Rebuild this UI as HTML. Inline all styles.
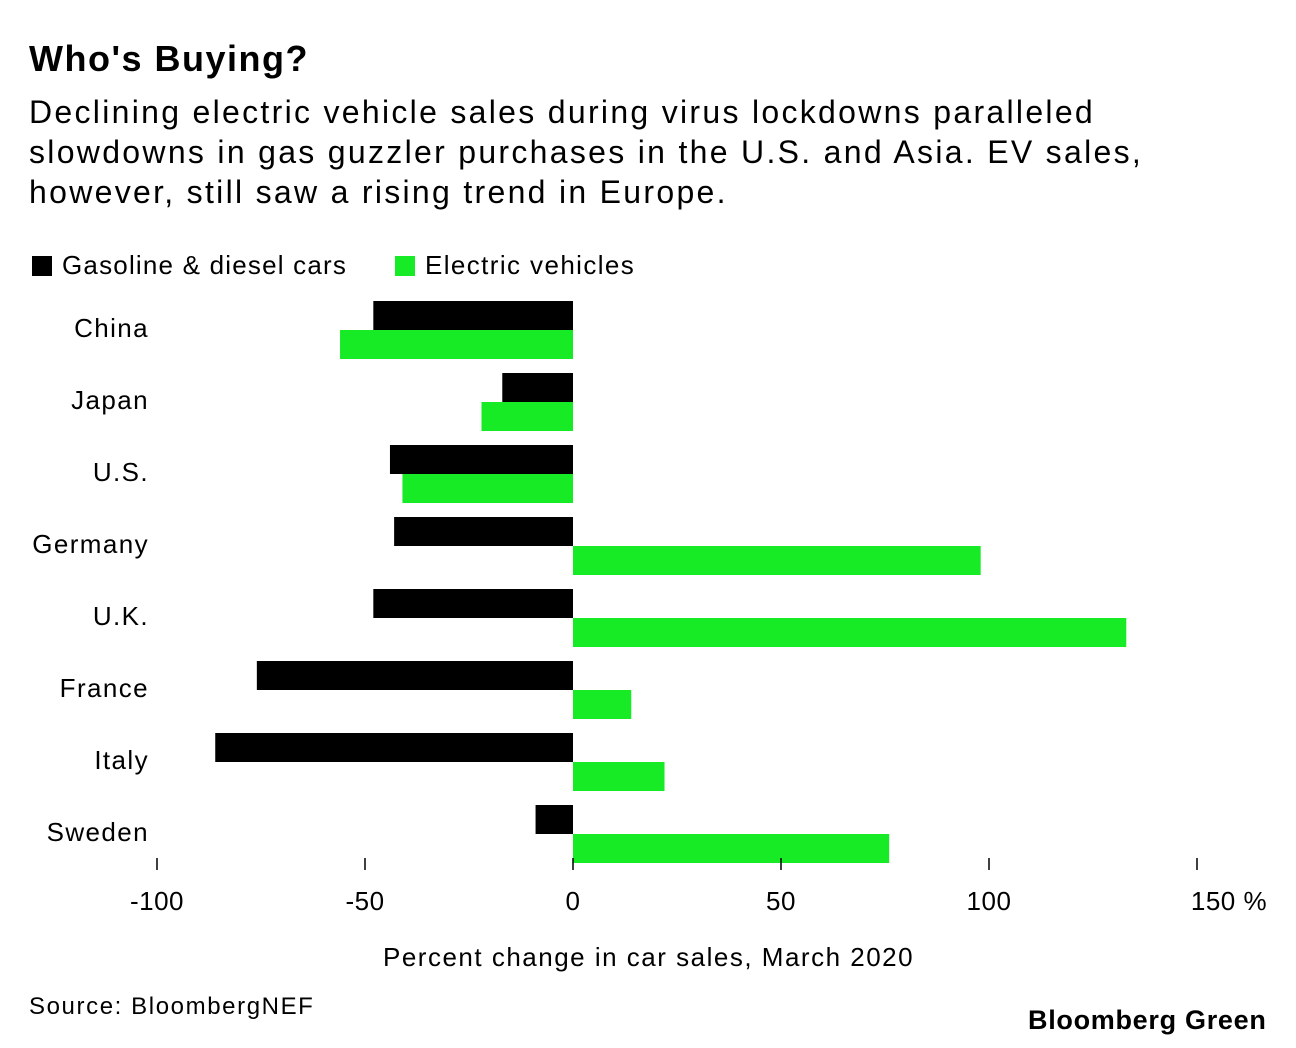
<!DOCTYPE html>
<html><head><meta charset="utf-8"><style>
body{margin:0;background:#fff;width:1296px;height:1048px;overflow:hidden;font-family:"Liberation Sans",sans-serif;}
.t{position:absolute;white-space:nowrap;color:#000}
</style></head><body>
<div class="t" style="left:29px;top:38px;font-size:36px;font-weight:bold;letter-spacing:1.5px">Who's Buying?</div>
<div class="t" style="left:29px;top:92px;font-size:32px;line-height:40px;letter-spacing:2.3px">Declining electric vehicle sales during virus lockdowns paralleled<br>slowdowns in gas guzzler purchases in the U.S. and Asia. EV sales,<br>however, still saw a rising trend in Europe.</div>
<div class="t" style="left:32px;top:250px;font-size:26px;letter-spacing:1.2px"><span style="display:inline-block;width:20px;height:20px;background:#000;vertical-align:-2px;margin-right:10px"></span>Gasoline &amp; diesel cars</div>
<div class="t" style="left:395px;top:250px;font-size:26px;letter-spacing:1.4px"><span style="display:inline-block;width:20px;height:20px;background:#16eb26;vertical-align:-2px;margin-right:10px"></span>Electric vehicles</div>
<svg id="chart" width="1296" height="1048" style="position:absolute;left:0;top:0"></svg>
<div class="t" style="left:383px;top:942px;font-size:26px;letter-spacing:1.5px">Percent change in car sales, March 2020</div>
<div class="t" style="left:29px;top:993px;font-size:24px;letter-spacing:1.6px">Source: BloombergNEF</div>
<div class="t" style="left:1028px;top:1005px;font-size:27px;font-weight:bold;letter-spacing:0.7px">Bloomberg Green</div>
<script>
const categories=["China","Japan","U.S.","Germany","U.K.","France","Italy","Sweden"];
const gasValues=[-48,-17,-44,-43,-48,-76,-86,-9];
const evValues=[-56,-22,-41,98,133,14,22,76];
const tickValues=[-100,-50,0,50,100,150];
const tickLabels=["-100","-50","0","50","100","150 %"];
const svg=document.getElementById('chart');
const NS='http://www.w3.org/2000/svg';
const x=v=>573+v*4.16;
const rowY=i=>301+i*72;
function mk(t,a){const e=document.createElementNS(NS,t);for(const k in a)e.setAttribute(k,a[k]);svg.appendChild(e);return e;}
categories.forEach((c,i)=>{
 const y=rowY(i);
 const g=mk('rect',{x:Math.min(x(0),x(gasValues[i])),y:y,width:Math.abs(x(gasValues[i])-x(0)),height:29,fill:'#000'});
 
 
 const e=mk('rect',{x:Math.min(x(0),x(evValues[i])),y:y+29,width:Math.abs(x(evValues[i])-x(0)),height:29,fill:'#16eb26'});
 
 
 const l=mk('text',{x:149,y:y+36,'text-anchor':'end','font-size':26,'letter-spacing':1.4,'font-family':'Liberation Sans, sans-serif'});
 l.textContent=c;
 
 
});
tickValues.forEach((v,i)=>{
 const t=mk('line',{x1:x(v),x2:x(v),y1:858,y2:870,stroke:'#000','stroke-width':1.5});
 
 
 const lab=mk('text',{x:x(v)+(i==tickLabels.length-1?32:0),y:910,'text-anchor':'middle','font-size':26,'letter-spacing':0.5,'font-family':'Liberation Sans, sans-serif'});
 lab.textContent=tickLabels[i];
 
 
});
</script>
</body></html>
